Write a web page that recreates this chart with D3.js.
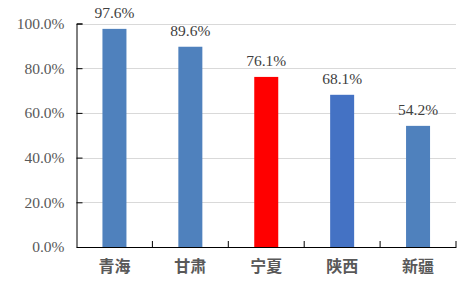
<!DOCTYPE html>
<html>
<head>
<meta charset="utf-8">
<script src="https://cdn.jsdelivr.net/npm/d3@7"></script>
<style>
  body { margin: 0; background: #fff; }
</style>
</head>
<body>
<script>
const regions = ["青海", "甘肃", "宁夏", "陕西", "新疆"];
const rates = [97.6, 89.6, 76.1, 68.1, 54.2];
const barColors = ["#4F81BD", "#4F81BD", "#FF0000", "#4472C4", "#4F81BD"];
const yTicks = [0, 20, 40, 60, 80, 100];

const width = 462, height = 288;
const margin = { top: 23.5, right: 6, bottom: 41, left: 76.5 };
const serif = "'Liberation Serif'";

const svg = d3.select("body").append("svg")
  .attr("width", width)
  .attr("height", height);

const xScale = d3.scaleBand()
  .domain(regions)
  .range([margin.left, width - margin.right])
  .paddingInner(0)
  .paddingOuter(0);

const yScale = d3.scaleLinear()
  .domain([0, 100])
  .range([height - margin.bottom, margin.top]);

const barWidth = 24;

// gridlines
svg.append("g")
  .selectAll("line")
  .data(yTicks.filter((d) => d > 0))
  .enter()
  .append("line")
  .attr("x1", margin.left)
  .attr("x2", width - margin.right)
  .attr("y1", (d) => Math.round(yScale(d)) + 0.5)
  .attr("y2", (d) => Math.round(yScale(d)) + 0.5)
  .attr("stroke", "#D9D9D9")
  .attr("stroke-width", 1);

// bars
svg.append("g")
  .selectAll("rect")
  .data(regions)
  .enter()
  .append("rect")
  .attr("x", (d) => xScale(d) + xScale.bandwidth() / 2 - barWidth / 2)
  .attr("y", (d, i) => yScale(rates[i]))
  .attr("width", barWidth)
  .attr("height", (d, i) => yScale(0) - yScale(rates[i]))
  .attr("fill", (d, i) => barColors[i]);

// value labels
svg.append("g")
  .selectAll("text")
  .data(regions)
  .enter()
  .append("text")
  .attr("x", (d) => xScale(d) + xScale.bandwidth() / 2)
  .attr("y", (d, i) => yScale(rates[i]) - 11)
  .attr("text-anchor", "middle")
  .style("font-family", serif)
  .style("font-size", "15.5px")
  .attr("fill", "#404040")
  .text((d, i) => rates[i].toFixed(1) + "%");

// y axis
const yAxis = d3.axisLeft(yScale)
  .tickValues(yTicks)
  .tickSize(-6)
  .tickPadding(12)
  .tickFormat((d) => d.toFixed(1) + "%");
const gy = svg.append("g")
  .attr("transform", "translate(" + margin.left + ",0)")
  .call(yAxis);
gy.select(".domain").attr("stroke", "#000");
gy.selectAll(".tick line").attr("stroke", "#000");
gy.selectAll("text")
  .style("font-family", serif)
  .style("font-size", "15.5px")
  .attr("fill", "#595959");

// x axis
const xAxis = d3.axisBottom(xScale).tickSize(0).tickPadding(14);
const gx = svg.append("g")
  .attr("transform", "translate(0," + yScale(0) + ")")
  .call(xAxis);
gx.select(".domain").attr("stroke", "#000");
gx.selectAll("text")
  .style("font-family", "'Noto Sans CJK SC'")
  .style("font-weight", "bold")
  .style("font-size", "16px")
  .attr("fill", "#595959");

// category boundary ticks
svg.append("g")
  .selectAll("line")
  .data(regions)
  .enter()
  .append("line")
  .attr("x1", (d) => xScale(d) + xScale.bandwidth())
  .attr("x2", (d) => xScale(d) + xScale.bandwidth())
  .attr("y1", yScale(0))
  .attr("y2", yScale(0) - 6)
  .attr("stroke", "#000");
</script>
</body>
</html>
